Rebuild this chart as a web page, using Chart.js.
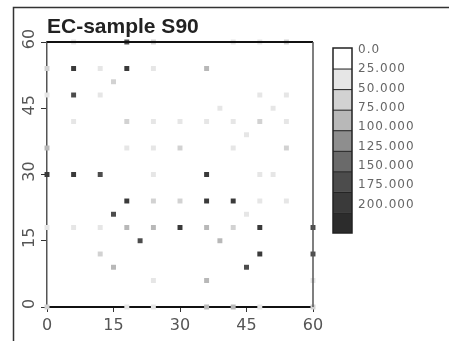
<!DOCTYPE html>
<html>
<head>
<meta charset="utf-8">
<title>EC-sample S90</title>
<script src="https://cdn.jsdelivr.net/npm/chart.js@4.4.0/dist/chart.umd.min.js"></script>
<style>
  html, body { margin: 0; padding: 0; background: #fff; }
  #wrap { position: relative; width: 449px; height: 341px; }
</style>
</head>
<body>
<div id="wrap"><canvas id="ecChart" width="449" height="341"></canvas></div>
<script>
// ─── Data ───────────────────────────────────────────
const TITLE = 'EC-sample S90';
const xTicks = [0, 15, 30, 45, 60];
const yTicks = [0, 15, 30, 45, 60];

const ptX = [
  6, 18, 24, 42, 48, 54,
  0, 6, 12, 18, 24, 36, 15,
  0, 6, 12, 48, 54,
  39, 51,
  6, 18, 24, 30, 36, 42, 48, 54,
  45,
  0, 18, 24, 30, 42, 54,
  0, 6, 12, 24, 36, 48, 51,
  18, 24, 30, 36, 42, 48, 54,
  15, 45,
  0, 6, 12, 18, 24, 30, 36, 42, 48, 60,
  21, 39,
  12, 48, 60,
  15, 45,
  24, 36, 60,
  0, 18, 24, 36, 42, 48, 60
];
const ptY = [
  60, 60, 60, 60, 60, 60,
  54, 54, 54, 54, 54, 54, 51,
  48, 48, 48, 48, 48,
  45, 45,
  42, 42, 42, 42, 42, 42, 42, 42,
  39,
  36, 36, 36, 36, 36, 36,
  30, 30, 30, 30, 30, 30, 30,
  24, 24, 24, 24, 24, 24, 24,
  21, 21,
  18, 18, 18, 18, 18, 18, 18, 18, 18, 18,
  15, 15,
  12, 12, 12,
  9, 9,
  6, 6, 6,
  0, 0, 0, 0, 0, 0, 0
];
const ptVal = [
  30, 150, 50, 30, 30, 50,
  55, 180, 30, 180, 35, 85, 60,
  30, 150, 30, 30, 45,
  30, 40,
  30, 50, 30, 30, 45, 45, 55, 45,
  35,
  85, 45, 35, 65, 45, 65,
  180, 180, 165, 45, 195, 45, 30,
  190, 55, 55, 175, 190, 45, 35,
  165, 30,
  30, 30, 30, 85, 85, 195, 75, 65, 195, 165,
  165, 75,
  65, 195, 165,
  85, 165,
  45, 90, 30,
  55, 30, 45, 90, 85, 45, 55
];

// colour bar
const levelLabels = ['0.0', '25.000', '50.000', '75.000', '100.000', '125.000', '150.000', '175.000', '200.000'];
const levelStep = 25;
const bandColors = ['#ffffff', '#e6e6e6', '#d2d2d2', '#b8b8b8', '#8e8e8e', '#6a6a6a', '#4c4c4c', '#3a3a3a', '#2c2c2c'];

// ─── Helpers ────────────────────────────────────────
function bandIndex(v) { return Math.max(0, Math.min(bandColors.length - 1, Math.floor(v / levelStep))); }
function fillFor(v) { return bandColors[bandIndex(v)]; }

const points = ptX.map((x, i) => ({ x: x, y: ptY[i] }));

// ─── Decorations (frame, title, y labels, colour bar) ─
const decor = {
  id: 'decor',
  afterDraw(chart) {
    const { ctx, chartArea: a } = chart;
    const ys = chart.scales.y;
    ctx.save();

    // outer page frame
    ctx.strokeStyle = '#333';
    ctx.lineWidth = 1.5;
    ctx.beginPath();
    ctx.moveTo(449, 7.5); ctx.lineTo(13.5, 7.5); ctx.lineTo(13.5, 341);
    ctx.stroke();

    // plot frame: heavy top, dotted right
    ctx.strokeStyle = '#111';
    ctx.lineWidth = 2;
    ctx.beginPath(); ctx.moveTo(a.left, a.top); ctx.lineTo(a.right, a.top); ctx.stroke();
    ctx.strokeStyle = '#555';
    ctx.lineWidth = 1.5;
    ctx.beginPath(); ctx.moveTo(a.right, a.top); ctx.lineTo(a.right, a.bottom); ctx.stroke();

    // title
    ctx.fillStyle = '#222';
    ctx.font = 'bold 21px "Liberation Sans", Arial, sans-serif';
    ctx.textAlign = 'left';
    ctx.textBaseline = 'alphabetic';
    ctx.fillText(TITLE, a.left, 33);

    // rotated y tick labels
    ctx.fillStyle = '#555';
    ctx.font = '16px "DejaVu Sans", sans-serif';
    ctx.textAlign = 'center';
    ctx.textBaseline = 'middle';
    yTicks.forEach(t => {
      const py = ys.getPixelForValue(t) - 3;
      ctx.save();
      ctx.translate(30, py);
      ctx.rotate(-Math.PI / 2);
      ctx.fillText(String(t), 0, 0);
      ctx.restore();
    });

    // colour bar
    const bx = 333, bw = 19, btop = 48, bbot = 233;
    const bh = (bbot - btop) / bandColors.length;
    bandColors.forEach((c, i) => {
      ctx.fillStyle = c;
      ctx.fillRect(bx, btop + i * bh, bw, bh);
    });
    ctx.strokeStyle = '#222';
    ctx.lineWidth = 1;
    for (let i = 1; i < bandColors.length; i++) {
      ctx.beginPath();
      ctx.moveTo(bx, btop + i * bh + 0.5); ctx.lineTo(bx + bw, btop + i * bh + 0.5);
      ctx.stroke();
    }
    ctx.lineWidth = 1.5;
    ctx.strokeRect(bx, btop, bw, bbot - btop);

    ctx.fillStyle = '#666';
    ctx.font = '12px "DejaVu Sans", sans-serif';
    ctx.letterSpacing = '1px';
    ctx.textAlign = 'left';
    ctx.textBaseline = 'middle';
    levelLabels.forEach((l, i) => ctx.fillText(l, 358, 50 + i * 19.3));

    ctx.restore();
  }
};

// ─── Chart ──────────────────────────────────────────
const ecChart = new Chart(document.getElementById('ecChart'), {
  type: 'scatter',
  data: {
    datasets: [{
      label: TITLE,
      data: points,
      pointStyle: 'rect',
      pointRadius: 3.5,
      pointHoverRadius: 3.5,
      pointBackgroundColor: ptVal.map(fillFor),
      pointBorderWidth: 0,
      clip: false
    }]
  },
  options: {
    responsive: false,
    animation: false,
    layout: { padding: { left: 0, top: 42, right: 136, bottom: 0 } },
    plugins: { legend: { display: false }, tooltip: { enabled: false }, title: { display: false } },
    scales: {
      x: {
        type: 'linear', min: 0, max: 60,
        afterBuildTicks: s => { s.ticks = xTicks.map(v => ({ value: v })); },
        afterFit: s => { s.height = 34; },
        ticks: { color: '#555', padding: 4, font: { family: '"DejaVu Sans", sans-serif', size: 16 } },
        grid: { drawOnChartArea: false, tickLength: 5, color: '#333' },
        border: { color: '#111', width: 2 }
      },
      y: {
        type: 'linear', min: 0, max: 60,
        afterBuildTicks: s => { s.ticks = yTicks.map(v => ({ value: v })); },
        afterFit: s => { s.width = 47; },
        ticks: { display: false },
        grid: { drawOnChartArea: false, tickLength: 6, color: '#333' },
        border: { color: '#555', width: 1.5 }
      }
    }
  },
  plugins: [decor]
});
</script>
</body>
</html>
